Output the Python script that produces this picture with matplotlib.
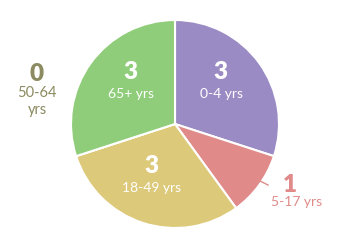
import matplotlib.pyplot as plt

# slices, clockwise from 12 o'clock
groups = ['0-4 yrs', '5-17 yrs', '18-49 yrs', '50-64 yrs', '65+ yrs']
counts = [3, 1, 3, 0, 3]
colors = ['#9b8bc4', '#e08a8a', '#ddc97a', '#8c8a60', '#8fcd7a']
label_colors = ['white', '#e08a8a', 'white', '#8c8a60', 'white']

plt.rcParams['font.family'] = ['Lato', 'DejaVu Sans']

fig = plt.figure(figsize=(3.5, 2.5), dpi=100)
ax = fig.add_axes([0, 0, 1, 1])

cx, cy, r = 175, 124, 104
ax.pie(counts, colors=colors, startangle=90, counterclock=False,
       center=(cx, -cy), radius=r, frame=False,
       wedgeprops=dict(edgecolor='white', linewidth=1.5))
# pie works in y-up coords, so use negative y for pixel rows
ax.set_xlim(0, 350)
ax.set_ylim(-250, 0)
ax.set_aspect('equal')
ax.axis('off')

# label anchor (number position) for each slice
label_pos = [(220, 72), (290, 185), (151, 166), (37, 74), (130, 72)]
for i, (g, n) in enumerate(zip(groups, counts)):
    x, y = label_pos[i]
    c = label_colors[i]
    ax.text(x, -y, str(n), ha='center', va='center', fontsize=17.5,
            fontweight='heavy', color=c)
    if g == '50-64 yrs':
        ax.text(x, -y - 19, '50-64', ha='center', va='center', fontsize=10.5, color=c)
        ax.text(x, -y - 36, 'yrs', ha='center', va='center', fontsize=10.5, color=c)
    elif g == '5-17 yrs':
        ax.text(x + 7, -y - 17, g, ha='center', va='center', fontsize=10, color=c)
    else:
        ax.text(x + 1, -y - 22, g, ha='center', va='center', fontsize=10, color=c)

# leader line for the small slice
ax.plot([260, 268], [-181, -185], color='#e08a8a', lw=1)

fig.savefig('out.png', dpi=100)
